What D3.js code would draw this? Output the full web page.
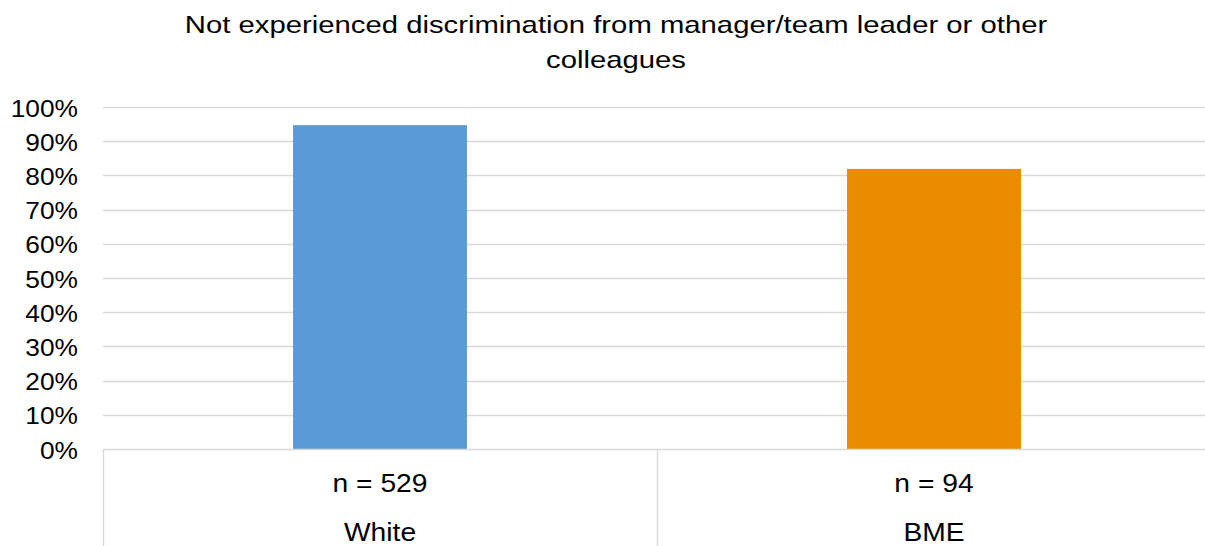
<!DOCTYPE html>
<html><head><meta charset="utf-8">
<script src="https://cdn.jsdelivr.net/npm/d3@7"></script>
<style>body{margin:0;background:#fff;}svg{display:block;font-family:"Liberation Sans",Arial,sans-serif;}</style>
</head><body>
<svg id="c" width="1205" height="546"></svg>
<script>
const categories = ["White", "BME"];
const nLabels = ["n = 529", "n = 94"];
const values = [0.947, 0.819];
const colors = ["#5b9bd5", "#eb8c00"];
const yTicks = [0,0.1,0.2,0.3,0.4,0.5,0.6,0.7,0.8,0.9,1.0];
const titleLines = ["Not experienced discrimination from manager/team leader or other", "colleagues"];

(function(){
const svg = d3.select("#c");
const pLeft = 103, pRight = 1211, pTop = 107, pBottom = 449;
const x = d3.scaleBand().domain(categories).range([pLeft, pRight]).paddingInner(0).paddingOuter(0);
const y = d3.scaleLinear().domain([0, 1]).range([pBottom, pTop]);
const grid = "#d9d9d9";

svg.append("g").selectAll("text").data(titleLines).join("text")
  .attr("transform", (d,i)=>`translate(616,${33 + i*35}) scale(1.22,1)`).attr("text-anchor","middle")
  .attr("font-size", 24).attr("fill","#000").text(d=>d);

svg.append("g").selectAll("line").data(yTicks.filter(t=>t>0)).join("line")
  .attr("x1", pLeft).attr("x2", 1205).attr("y1", d=>Math.round(y(d))+0.5).attr("y2", d=>Math.round(y(d))+0.5)
  .attr("stroke", grid).attr("stroke-width", 1.5);

svg.append("g").selectAll("text").data(yTicks).join("text")
  .attr("transform", d=>`translate(78,${y(d)+9.5}) scale(1.13,1)`).attr("text-anchor","end")
  .attr("font-size", 23.3).attr("fill","#000").text(d=>d3.format(".0%")(d));

const bw = x.bandwidth()*0.314;
svg.append("g").selectAll("rect").data(values).join("rect")
  .attr("x", (d,i)=>x(categories[i]) + x.bandwidth()/2 - bw/2)
  .attr("width", bw)
  .attr("y", d=>y(d)).attr("height", d=>pBottom - y(d))
  .attr("fill", (d,i)=>colors[i]);

svg.append("line").attr("x1", pLeft).attr("x2", 1205).attr("y1", pBottom+0.5).attr("y2", pBottom+0.5)
  .attr("stroke", grid).attr("stroke-width", 1.5);
svg.append("g").selectAll("line").data(categories).join("line")
  .attr("x1", d=>x(d)+0.5).attr("x2", d=>x(d)+0.5).attr("y1", pBottom).attr("y2", 546)
  .attr("stroke", grid).attr("stroke-width", 1.5);

svg.append("g").selectAll("text").data(categories).join("text")
  .attr("transform", d=>`translate(${x(d)+x.bandwidth()/2},492) scale(1.13,1)`).attr("text-anchor","middle")
  .attr("font-size", 25).attr("fill","#000").text((d,i)=>nLabels[i]);
svg.append("g").selectAll("text").data(categories).join("text")
  .attr("transform", d=>`translate(${x(d)+x.bandwidth()/2},540.5) scale(1.13,1)`).attr("text-anchor","middle")
  .attr("font-size", 25).attr("fill","#000").text(d=>d);
})();
</script>
</body></html>
